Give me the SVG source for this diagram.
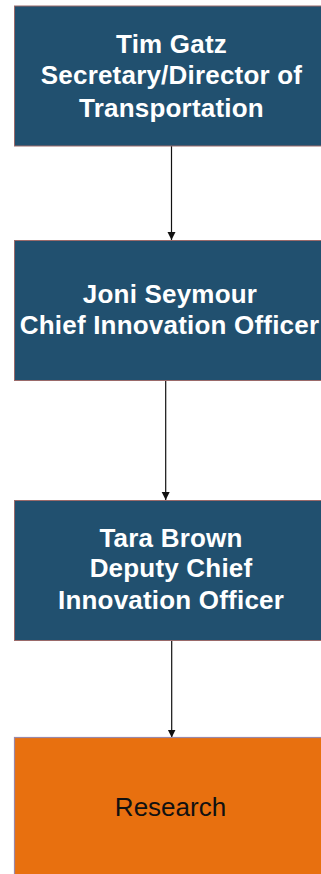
<svg xmlns="http://www.w3.org/2000/svg" width="321" height="874" viewBox="0 0 321 874">
<style>
.box{fill:#21506f;stroke:#9a6a6a;stroke-width:1}
.boxo{fill:#e8700f;stroke:#9a88a8;stroke-width:1.2}
.t{font-family:"Liberation Sans",Arial,sans-serif;font-size:26px;letter-spacing:0.2px;font-weight:bold;fill:#ffffff;text-anchor:middle}
.tn{font-family:"Liberation Sans",Arial,sans-serif;font-size:26px;fill:#111111;text-anchor:middle}
.c{stroke:#111111;stroke-width:1.2;fill:none;marker-end:url(#ah)}
</style>
<defs>
<marker id="ah" viewBox="0 0 10 10" refX="10" refY="5" markerUnits="userSpaceOnUse" markerWidth="8" markerHeight="9" orient="auto">
<path d="M0,0 L10,5 L0,10 z" fill="#111111"/>
</marker>
</defs>
<rect width="321" height="874" fill="#ffffff"/>
<g id="connectors">
<line class="c" x1="171.5" y1="146" x2="171.5" y2="240"/>
<line class="c" x1="165.7" y1="381" x2="165.7" y2="500"/>
<line class="c" x1="171.7" y1="641" x2="171.7" y2="737.5"/>
</g>
<g id="node-tim-gatz">
<rect class="box" x="14.5" y="6" width="320" height="140"/>
<text class="t" x="171.5" y="52.7">Tim Gatz</text>
<text class="t" x="171.5" y="84">Secretary/Director of</text>
<text class="t" x="171.5" y="116.5">Transportation</text>
</g>
<g id="node-joni-seymour">
<rect class="box" x="14.5" y="240.5" width="320" height="140"/>
<text class="t" x="170" y="302.7">Joni Seymour</text>
<text class="t" x="169.5" y="334">Chief Innovation Officer</text>
</g>
<g id="node-tara-brown">
<rect class="box" x="14.5" y="500.5" width="320" height="140"/>
<text class="t" x="171" y="546.7">Tara Brown</text>
<text class="t" x="171" y="577.3">Deputy Chief</text>
<text class="t" x="171" y="609.3">Innovation Officer</text>
</g>
<g id="node-research">
<rect class="boxo" x="14.5" y="737.5" width="320" height="150"/>
<text class="tn" x="170.5" y="816">Research</text>
</g>
</svg>
